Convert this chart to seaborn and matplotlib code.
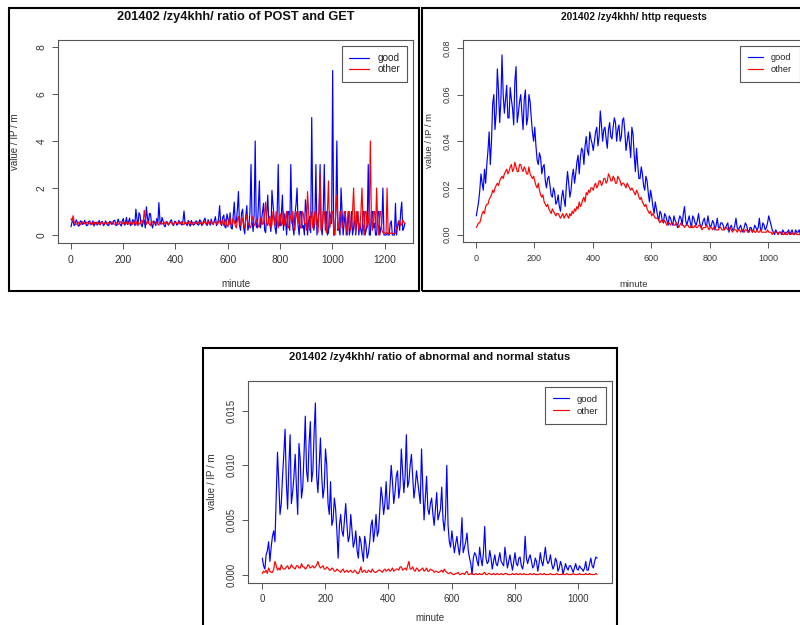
import numpy as np
import matplotlib
matplotlib.use("Agg")
import matplotlib.pyplot as plt
from matplotlib.patches import Rectangle
from matplotlib.ticker import FormatStrFormatter
import seaborn as sns

# Each series is stored as two readings per 8-minute block:
# *_at  -> minutes 1, 9, 17, ...   *_mid -> minutes 5, 13, 21, ...

# ---- ratio of POST and GET ----
post_get_minutes = np.arange(1, 1281, 4)
post_get_good_at = [
    0.35, 0.62, 0.45, 0.55, 0.40, 0.58, 0.48, 0.52, 0.42, 0.60,
    0.47, 0.38, 0.55, 0.50, 0.43, 0.58, 0.45, 0.52, 0.40, 0.56,
    0.48, 0.62, 0.42, 0.55, 0.38, 0.70, 0.50, 0.45, 0.72, 0.48,
    0.62, 1.10, 0.40, 0.85, 0.35, 0.65, 1.20, 0.50, 0.90, 0.30,
    0.55, 0.70, 1.38, 0.45, 0.60, 0.35, 0.52, 0.48, 0.65, 0.40,
    0.58, 0.45, 0.55, 0.42, 1.02, 0.48, 0.62, 0.38, 0.50, 0.45,
    0.60, 0.42, 0.58, 0.48, 0.72, 0.40, 0.55, 0.68, 0.45, 0.78,
    0.50, 1.25, 0.40, 0.85, 0.30, 0.70, 0.95, 0.25, 1.40, 0.55,
    1.85, 0.20, 1.10, 0.05, 1.25, 0.40, 3.00, 0.15, 4.00, 0.30,
    2.30, 0.60, 1.35, 0.10, 1.70, 0.45, 1.90, 0.80, 0.05, 3.00,
    0.40, 1.70, 0.90, 0.00, 1.00, 3.00, 0.30, 0.90, 2.00, 0.00,
    1.00, 0.40, 1.50, 0.00, 0.80, 5.00, 0.20, 3.00, 0.60, 3.00,
    0.00, 3.00, 1.00, 0.10, 0.80, 7.00, 0.00, 4.00, 0.30, 2.00,
    0.00, 1.00, 0.40, 0.00, 1.00, 0.30, 0.00, 1.00, 0.50, 0.00,
    1.00, 0.20, 3.00, 0.00, 1.00, 0.50, 0.00, 1.00, 0.30, 2.00,
    0.00, 0.10, 0.00, 0.60, 0.00, 1.35, 0.40, 0.20, 1.40, 0.30,
]
post_get_good_mid = [
    0.55, 0.40, 0.65, 0.38, 0.60, 0.45, 0.62, 0.40, 0.58, 0.44,
    0.60, 0.50, 0.42, 0.62, 0.55, 0.40, 0.60, 0.42, 0.58, 0.45,
    0.62, 0.40, 0.68, 0.45, 0.60, 0.42, 0.75, 0.55, 0.40, 0.65,
    0.40, 0.70, 0.95, 0.45, 0.60, 0.30, 0.75, 0.92, 0.45, 0.60,
    0.40, 0.50, 0.62, 0.75, 0.40, 0.58, 0.42, 0.60, 0.45, 0.58,
    0.42, 0.62, 0.48, 0.60, 0.50, 0.40, 0.45, 0.62, 0.42, 0.58,
    0.45, 0.65, 0.40, 0.62, 0.50, 0.65, 0.42, 0.50, 0.62, 0.40,
    0.70, 0.55, 0.75, 0.35, 0.90, 0.45, 0.30, 0.85, 0.50, 1.10,
    0.40, 0.95, 0.30, 0.80, 0.20, 1.00, 0.60, 0.90, 0.35, 1.20,
    0.30, 1.00, 0.20, 0.90, 0.50, 0.15, 1.30, 0.30, 1.00, 0.40,
    0.90, 0.20, 0.60, 1.00, 0.20, 0.90, 0.00, 1.30, 0.40, 1.00,
    0.30, 0.00, 1.00, 0.60, 0.10, 1.00, 0.50, 0.00, 1.00, 0.30,
    1.00, 0.20, 0.00, 1.00, 0.50, 0.00, 1.00, 0.20, 0.00, 1.00,
    0.50, 0.00, 1.00, 0.30, 0.00, 1.00, 0.50, 0.00, 0.20, 1.00,
    0.00, 0.50, 0.00, 1.00, 0.30, 0.00, 1.00, 0.00, 0.50, 0.00,
    0.00, 0.00, 0.50, 0.00, 0.00, 0.00, 0.60, 1.00, 0.20, 0.50,
]
post_get_other_at = [
    0.70, 0.82, 0.50, 0.45, 0.55, 0.48, 0.52, 0.46, 0.54, 0.50,
    0.44, 0.56, 0.48, 0.52, 0.45, 0.55, 0.50, 0.47, 0.53, 0.49,
    0.56, 0.45, 0.52, 0.48, 0.55, 0.50, 0.44, 0.58, 0.46, 0.52,
    0.60, 0.42, 0.55, 0.48, 0.62, 1.05, 0.45, 0.58, 0.40, 0.55,
    0.48, 0.55, 0.42, 0.52, 0.50, 0.46, 0.56, 0.48, 0.53, 0.45,
    0.55, 0.50, 0.47, 0.58, 0.44, 0.52, 0.50, 0.56, 0.46, 0.53,
    0.48, 0.55, 0.50, 0.45, 0.58, 0.52, 0.47, 0.60, 0.50, 0.55,
    0.45, 0.62, 0.50, 0.40, 0.68, 0.35, 0.75, 0.45, 0.60, 0.30,
    0.80, 0.40, 0.65, 0.30, 0.85, 0.50, 0.35, 0.70, 0.45, 0.60,
    0.35, 0.75, 0.50, 1.40, 0.40, 0.80, 0.45, 0.65, 1.00, 0.30,
    0.90, 0.50, 0.40, 1.00, 0.30, 0.70, 1.00, 0.20, 0.80, 1.00,
    0.30, 0.90, 0.50, 1.85, 0.20, 1.00, 0.40, 1.00, 0.10, 2.60,
    0.30, 1.00, 0.10, 2.30, 0.50, 1.00, 0.00, 1.70, 0.20, 1.00,
    0.50, 1.00, 0.00, 1.00, 0.40, 2.00, 0.10, 1.00, 0.30, 2.00,
    0.00, 1.00, 0.50, 4.00, 0.20, 1.00, 2.00, 0.00, 1.00, 0.10,
    0.08, 2.00, 0.05, 0.10, 0.06, 0.08, 0.40, 0.60, 0.45, 0.55,
]
post_get_other_mid = [
    0.60, 0.55, 0.47, 0.52, 0.44, 0.56, 0.49, 0.55, 0.47, 0.53,
    0.52, 0.47, 0.55, 0.45, 0.53, 0.48, 0.54, 0.51, 0.46, 0.55,
    0.47, 0.53, 0.45, 0.57, 0.48, 0.54, 0.52, 0.47, 0.55, 0.45,
    0.50, 0.58, 0.46, 0.60, 0.50, 0.70, 0.55, 0.45, 0.60, 0.48,
    0.53, 0.45, 0.56, 0.47, 0.55, 0.52, 0.45, 0.55, 0.47, 0.54,
    0.48, 0.56, 0.52, 0.46, 0.55, 0.48, 0.57, 0.45, 0.54, 0.50,
    0.55, 0.47, 0.56, 0.52, 0.46, 0.58, 0.54, 0.46, 0.57, 0.48,
    0.58, 0.45, 0.65, 0.55, 0.42, 0.60, 0.45, 0.70, 0.40, 0.65,
    0.45, 0.75, 0.40, 0.70, 0.45, 0.30, 0.80, 0.40, 0.65, 0.35,
    0.70, 0.45, 0.90, 0.50, 0.70, 0.30, 1.00, 0.40, 0.60, 0.80,
    0.40, 1.00, 0.70, 0.30, 0.90, 0.50, 0.40, 1.00, 0.50, 0.30,
    1.00, 0.50, 0.20, 1.00, 0.70, 0.30, 1.00, 0.50, 1.00, 0.20,
    1.00, 0.50, 1.00, 0.30, 1.00, 0.20, 1.00, 0.50, 1.00, 0.30,
    1.00, 0.40, 1.00, 0.20, 1.00, 0.60, 1.00, 0.20, 1.00, 0.50,
    1.00, 0.30, 1.00, 0.60, 1.00, 0.30, 0.50, 1.00, 0.20, 0.10,
    0.05, 0.10, 0.06, 0.08, 0.05, 0.30, 0.55, 0.40, 0.65, 0.50,
]

# ---- http requests ----
http_minutes = np.arange(1, 1142, 4)
http_good_at = [
    .008, .014, .026, .019, .022, .036, .030, .056, .045, .071,
    .048, .077, .052, .064, .050, .058, .047, .072, .052, .060,
    .045, .062, .050, .057, .044, .046, .032, .035, .026, .030,
    .020, .025, .017, .020, .013, .017, .010, .019, .012, .027,
    .016, .025, .022, .031, .026, .037, .030, .042, .034, .041,
    .036, .044, .038, .053, .040, .046, .037, .048, .041, .050,
    .040, .047, .042, .050, .036, .044, .033, .043, .027, .030,
    .024, .026, .019, .023, .014, .016, .009, .011, .006, .009,
    .005, .008, .004, .007, .004, .006, .003, .008, .004, .012,
    .004, .008, .003, .007, .004, .009, .003, .006, .004, .008,
    .003, .006, .002, .007, .003, .005, .002, .004, .001, .004,
    .002, .007, .002, .004, .001, .005, .002, .003, .001, .004,
    .002, .007, .002, .004, .003, .008, .004, .001, .002, .000,
    .001, .002, .000, .001, .000, .002, .000, .001, .002, .001,
    .000, .002, .001,
]
http_good_mid = [
    .011, .019, .022, .028, .030, .044, .040, .060, .052, .062,
    .057, .060, .058, .050, .063, .054, .066, .048, .057, .052,
    .058, .047, .060, .050, .040, .038, .030, .033, .029, .023,
    .024, .021, .016, .018, .014, .012, .016, .015, .021, .022,
    .019, .028, .026, .034, .033, .036, .038, .036, .044, .039,
    .040, .046, .042, .047, .045, .041, .045, .042, .046, .048,
    .045, .040, .049, .044, .040, .039, .046, .034, .037, .024,
    .029, .021, .025, .018, .019, .012, .014, .008, .010, .006,
    .009, .006, .008, .005, .008, .005, .006, .007, .009, .006,
    .006, .005, .008, .005, .006, .005, .004, .007, .004, .005,
    .004, .005, .004, .003, .005, .004, .003, .005, .003, .002,
    .004, .003, .003, .002, .003, .004, .001, .003, .002, .003,
    .003, .002, .005, .002, .005, .006, .002, .000, .001, .001,
    .000, .001, .001, .002, .001, .000, .002, .001, .000, .001,
    .002, .000, .001,
]
http_other_at = [
    .003, .005, .007, .010, .012, .013, .016, .019, .020, .022,
    .023, .025, .026, .028, .027, .030, .028, .029, .027, .030,
    .027, .028, .026, .026, .024, .023, .020, .019, .016, .014,
    .012, .011, .009, .010, .008, .009, .007, .009, .008, .008,
    .009, .010, .011, .012, .014, .013, .016, .018, .019, .020,
    .019, .022, .021, .023, .022, .024, .023, .025, .023, .024,
    .022, .024, .021, .022, .020, .021, .019, .019, .017, .018,
    .015, .014, .012, .011, .009, .008, .008, .007, .006, .006,
    .005, .005, .005, .004, .005, .004, .004, .004, .004, .003,
    .004, .003, .004, .003, .003, .004, .003, .003, .003, .003,
    .003, .002, .003, .002, .003, .002, .002, .003, .002, .002,
    .002, .002, .002, .001, .002, .002, .001, .002, .001, .001,
    .002, .001, .001, .001, .001, .001, .001, .001, .001, .000,
    .001, .000, .001, .000, .000, .001, .000, .000, .000, .001,
    .000, .000, .001,
]
http_other_mid = [
    .004, .005, .009, .009, .013, .015, .017, .018, .021, .021,
    .024, .024, .027, .026, .029, .027, .031, .027, .030, .028,
    .029, .026, .029, .025, .025, .021, .022, .017, .017, .013,
    .013, .010, .011, .009, .009, .008, .008, .007, .009, .007,
    .008, .009, .010, .011, .012, .015, .014, .017, .018, .020,
    .021, .020, .023, .021, .024, .022, .026, .023, .025, .022,
    .025, .023, .022, .021, .022, .020, .020, .018, .019, .016,
    .016, .013, .013, .010, .010, .009, .007, .007, .005, .006,
    .006, .004, .005, .005, .004, .005, .003, .005, .004, .004,
    .004, .003, .003, .004, .003, .004, .002, .003, .004, .002,
    .003, .003, .002, .002, .003, .002, .003, .002, .003, .001,
    .002, .001, .002, .002, .001, .002, .001, .002, .002, .001,
    .001, .002, .001, .001, .002, .001, .000, .001, .001, .001,
    .001, .000, .000, .001, .000, .000, .001, .000, .000, .000,
    .001, .000, .000,
]

# ---- ratio of abnormal and normal status ----
status_minutes = np.arange(1, 1062, 4)
status_good_at = [
    15e-4, 5e-4, 22e-4, 12e-4, 35e-4, 30e-4, 112e-4, 55e-4, 90e-4, 133e-4,
    60e-4, 128e-4, 75e-4, 110e-4, 55e-4, 105e-4, 80e-4, 145e-4, 85e-4, 140e-4,
    95e-4, 157e-4, 75e-4, 125e-4, 70e-4, 115e-4, 65e-4, 85e-4, 50e-4, 60e-4,
    15e-4, 55e-4, 35e-4, 65e-4, 30e-4, 55e-4, 25e-4, 40e-4, 15e-4, 30e-4,
    12e-4, 28e-4, 20e-4, 45e-4, 30e-4, 55e-4, 40e-4, 80e-4, 55e-4, 85e-4,
    60e-4, 100e-4, 65e-4, 90e-4, 70e-4, 115e-4, 75e-4, 128e-4, 85e-4, 110e-4,
    70e-4, 95e-4, 75e-4, 115e-4, 50e-4, 90e-4, 55e-4, 70e-4, 45e-4, 75e-4,
    55e-4, 80e-4, 40e-4, 100e-4, 30e-4, 40e-4, 20e-4, 35e-4, 18e-4, 52e-4,
    25e-4, 38e-4, 15e-4, 0.0, 20e-4, 12e-4, 25e-4, 8e-4, 44e-4, 10e-4,
    22e-4, 5e-4, 18e-4, 8e-4, 20e-4, 10e-4, 25e-4, 6e-4, 18e-4, 4e-4,
    20e-4, 8e-4, 16e-4, 5e-4, 35e-4, 10e-4, 18e-4, 6e-4, 15e-4, 3e-4,
    20e-4, 8e-4, 25e-4, 10e-4, 18e-4, 5e-4, 15e-4, 3e-4, 12e-4, 0.0,
    10e-4, 4e-4, 8e-4, 2e-4, 10e-4, 4e-4, 6e-4, 3e-4, 12e-4, 4e-4,
    15e-4, 6e-4, 16e-4,
]
status_good_mid = [
    8e-4, 18e-4, 30e-4, 25e-4, 40e-4, 70e-4, 85e-4, 65e-4, 110e-4, 85e-4,
    100e-4, 65e-4, 90e-4, 80e-4, 120e-4, 70e-4, 110e-4, 95e-4, 120e-4, 85e-4,
    130e-4, 90e-4, 100e-4, 90e-4, 80e-4, 100e-4, 55e-4, 45e-4, 70e-4, 40e-4,
    45e-4, 40e-4, 50e-4, 45e-4, 35e-4, 40e-4, 30e-4, 22e-4, 35e-4, 20e-4,
    35e-4, 15e-4, 30e-4, 50e-4, 40e-4, 35e-4, 60e-4, 70e-4, 65e-4, 60e-4,
    80e-4, 85e-4, 75e-4, 95e-4, 80e-4, 95e-4, 90e-4, 80e-4, 100e-4, 90e-4,
    80e-4, 85e-4, 65e-4, 80e-4, 70e-4, 60e-4, 65e-4, 55e-4, 60e-4, 50e-4,
    60e-4, 50e-4, 55e-4, 45e-4, 25e-4, 30e-4, 28e-4, 25e-4, 30e-4, 20e-4,
    30e-4, 22e-4, 10e-4, 15e-4, 18e-4, 8e-4, 15e-4, 20e-4, 15e-4, 12e-4,
    15e-4, 12e-4, 10e-4, 14e-4, 12e-4, 8e-4, 15e-4, 12e-4, 10e-4, 12e-4,
    10e-4, 15e-4, 8e-4, 12e-4, 15e-4, 15e-4, 12e-4, 8e-4, 12e-4, 10e-4,
    12e-4, 16e-4, 14e-4, 12e-4, 10e-4, 8e-4, 12e-4, 6e-4, 8e-4, 5e-4,
    6e-4, 8e-4, 5e-4, 6e-4, 5e-4, 8e-4, 5e-4, 6e-4, 4e-4, 10e-4,
    8e-4, 12e-4, 15e-4,
]
status_other_at = [
    1e-4, 2e-4, 1e-4, 3e-4, 2e-4, 12e-4, 4e-4, 4e-4, 6e-4, 5e-4,
    8e-4, 6e-4, 7e-4, 5e-4, 8e-4, 6e-4, 7e-4, 5e-4, 9e-4, 6e-4,
    8e-4, 7e-4, 12e-4, 6e-4, 8e-4, 5e-4, 6e-4, 4e-4, 5e-4, 3e-4,
    4e-4, 2e-4, 5e-4, 3e-4, 2e-4, 4e-4, 2e-4, 3e-4, 1e-4, 7e-4,
    3e-4, 2e-4, 4e-4, 2e-4, 3e-4, 2e-4, 4e-4, 3e-4, 4e-4, 3e-4,
    5e-4, 4e-4, 3e-4, 5e-4, 4e-4, 7e-4, 5e-4, 4e-4, 12e-4, 5e-4,
    4e-4, 6e-4, 3e-4, 5e-4, 3e-4, 6e-4, 3e-4, 4e-4, 2e-4, 3e-4,
    2e-4, 4e-4, 5e-4, 2e-4, 1e-4, 1e-4, 0.0, 1e-4, 0.0, 1e-4,
    0.0, 3e-4, 0.0, 1e-4, 0.0, 0.0, 1e-4, 0.0, 2e-4, 0.0,
    1e-4, 0.0, 0.0, 1e-4, 0.0, 0.0, 1e-4, 0.0, 0.0, 1e-4,
    0.0, 0.0, 1e-4, 0.0, 0.0, 0.0, 1e-4, 0.0, 0.0, 0.0,
    1e-4, 0.0, 0.0, 0.0, 1e-4, 0.0, 0.0, 0.0, 0.0, 1e-4,
    0.0, 0.0, 0.0, 1e-4, 0.0, 0.0, 0.0, 0.0, 1e-4, 0.0,
    0.0, 0.0, 1e-4,
]
status_other_mid = [
    3e-4, 4e-4, 6e-4, 2e-4, 5e-4, 8e-4, 6e-4, 9e-4, 5e-4, 7e-4,
    5e-4, 9e-4, 6e-4, 8e-4, 6e-4, 10e-4, 7e-4, 6e-4, 8e-4, 7e-4,
    6e-4, 9e-4, 8e-4, 7e-4, 5e-4, 7e-4, 4e-4, 6e-4, 3e-4, 5e-4,
    3e-4, 4e-4, 2e-4, 4e-4, 3e-4, 2e-4, 4e-4, 1e-4, 3e-4, 2e-4,
    4e-4, 2e-4, 3e-4, 5e-4, 2e-4, 3e-4, 4e-4, 2e-4, 5e-4, 4e-4,
    3e-4, 6e-4, 4e-4, 5e-4, 7e-4, 4e-4, 6e-4, 8e-4, 5e-4, 7e-4,
    3e-4, 5e-4, 4e-4, 6e-4, 4e-4, 3e-4, 5e-4, 4e-4, 3e-4, 2e-4,
    3e-4, 2e-4, 3e-4, 1e-4, 2e-4, 0.0, 1e-4, 2e-4, 0.0, 1e-4,
    2e-4, 0.0, 1e-4, 0.0, 1e-4, 0.0, 0.0, 1e-4, 0.0, 1e-4,
    0.0, 1e-4, 0.0, 0.0, 1e-4, 0.0, 1e-4, 0.0, 0.0, 0.0,
    1e-4, 0.0, 0.0, 1e-4, 0.0, 0.0, 0.0, 1e-4, 0.0, 0.0,
    0.0, 1e-4, 0.0, 0.0, 0.0, 0.0, 1e-4, 0.0, 0.0, 0.0,
    1e-4, 0.0, 0.0, 0.0, 0.0, 1e-4, 0.0, 0.0, 0.0, 1e-4,
    0.0, 0.0, 0.0,
]


def interleave(at, mid):
    """Merge the two readings of each 8-minute block into time order."""
    return np.column_stack([at, mid]).ravel()


sns.set_style("white")
plt.rcParams["font.family"] = ["Liberation Sans", "DejaVu Sans"]

W, H = 800, 625
fig = plt.figure(figsize=(W / 100, H / 100), dpi=100)


def rect_px(left, top, right, bottom):
    return [left / W, 1 - bottom / H, (right - left) / W, (bottom - top) / H]


def add_frame(left, top, right, bottom):
    fig.add_artist(Rectangle((left / W, 1 - bottom / H), (right - left) / W,
                             (bottom - top) / H, transform=fig.transFigure,
                             fill=False, ec="black", lw=1.5, clip_on=False))


def draw_panel(ax, minutes, good, other, title, title_xy, xlim, ylim,
               xticks, yticks, yfmt, fs_tick, fs_title, fs_label, fs_leg,
               xlabel_y, ylabel_x, leg_opts):
    sns.lineplot(x=minutes, y=good, ax=ax, color="#0000ff", lw=0.85,
                 label="good")
    sns.lineplot(x=minutes, y=other, ax=ax, color="#ff0000", lw=0.85,
                 label="other")
    ax.set_xlim(*xlim)
    ax.set_ylim(*ylim)
    ax.set_xticks(xticks)
    ax.set_yticks(yticks)
    ax.yaxis.set_major_formatter(FormatStrFormatter(yfmt))
    for sp in ax.spines.values():
        sp.set_visible(True)
        sp.set_color("#555555")
        sp.set_linewidth(0.8)
    ax.tick_params(axis="both", bottom=True, left=True, direction="out",
                   length=4.3, width=0.7, color="#555555", pad=4.0,
                   labelsize=fs_tick, labelcolor="#333333")
    for lbl in ax.get_yticklabels():
        lbl.set_rotation(90)
        lbl.set_va("center")
    ax.set_xlabel("minute", fontsize=fs_label, color="#333333")
    ax.xaxis.set_label_coords(0.5, xlabel_y)
    ax.xaxis.label.set_va("center")
    ax.set_ylabel("value / IP / m", fontsize=fs_label, color="#333333")
    ax.yaxis.set_label_coords(ylabel_x, 0.5)
    ax.yaxis.label.set_va("center")
    leg = ax.legend(loc="upper right", fontsize=fs_leg, fancybox=False,
                    framealpha=1, edgecolor="#555555", borderaxespad=0.6,
                    handletextpad=0.8, **leg_opts)
    leg.get_frame().set_linewidth(0.8)
    for t in leg.get_texts():
        t.set_color("#222222")
    fig.text(title_xy[0] / W, 1 - title_xy[1] / H, title, ha="center",
             va="center", fontsize=fs_title, fontweight="bold", color="#111111")


# panel frames
add_frame(9.3, 7.8, 419.3, 291)
add_frame(421.8, 7.8, 900, 291)
add_frame(202.5, 348.3, 616.7, 700)

ax1 = fig.add_axes(rect_px(58.3, 40, 413, 243))
draw_panel(ax1, post_get_minutes,
           interleave(post_get_good_at, post_get_good_mid),
           interleave(post_get_other_at, post_get_other_mid),
           "201402 /zy4khh/ ratio of POST and GET", (236, 17),
           (-47.4, 1308), (-0.34, 8.3), range(0, 1201, 200), range(0, 9, 2),
           "%d", 7.4, 9.2, 7.0, 7.2, -0.202, -0.122,
           dict(handlelength=2.0, borderpad=0.7, labelspacing=0.15))

ax2 = fig.add_axes(rect_px(463, 40, 805, 242))
draw_panel(ax2, http_minutes,
           interleave(http_good_at, http_good_mid),
           interleave(http_other_at, http_other_mid),
           "201402 /zy4khh/ http requests", (634, 17),
           (-44.4, 1125), (-0.0032, 0.0834), range(0, 1001, 200),
           [0.0, 0.02, 0.04, 0.06, 0.08], "%.2f", 6.5, 7.4, 6.8, 6.6,
           -0.208, -0.099,
           dict(handlelength=1.7, borderpad=0.85, labelspacing=0.3))

ax3 = fig.add_axes(rect_px(248.3, 381, 612, 582.5))
draw_panel(ax3, status_minutes,
           interleave(status_good_at, status_good_mid),
           interleave(status_other_at, status_other_mid),
           "201402 /zy4khh/ ratio of abnormal and normal status", (430, 357),
           (-43.4, 1108), (-0.00073, 0.01772), range(0, 1001, 200),
           [0.0, 0.005, 0.010, 0.015], "%.3f", 7.0, 8.1, 7.0, 6.8,
           -0.176, -0.0998,
           dict(handlelength=1.7, borderpad=0.85, labelspacing=0.3))

fig.savefig("out.png", dpi=100)
